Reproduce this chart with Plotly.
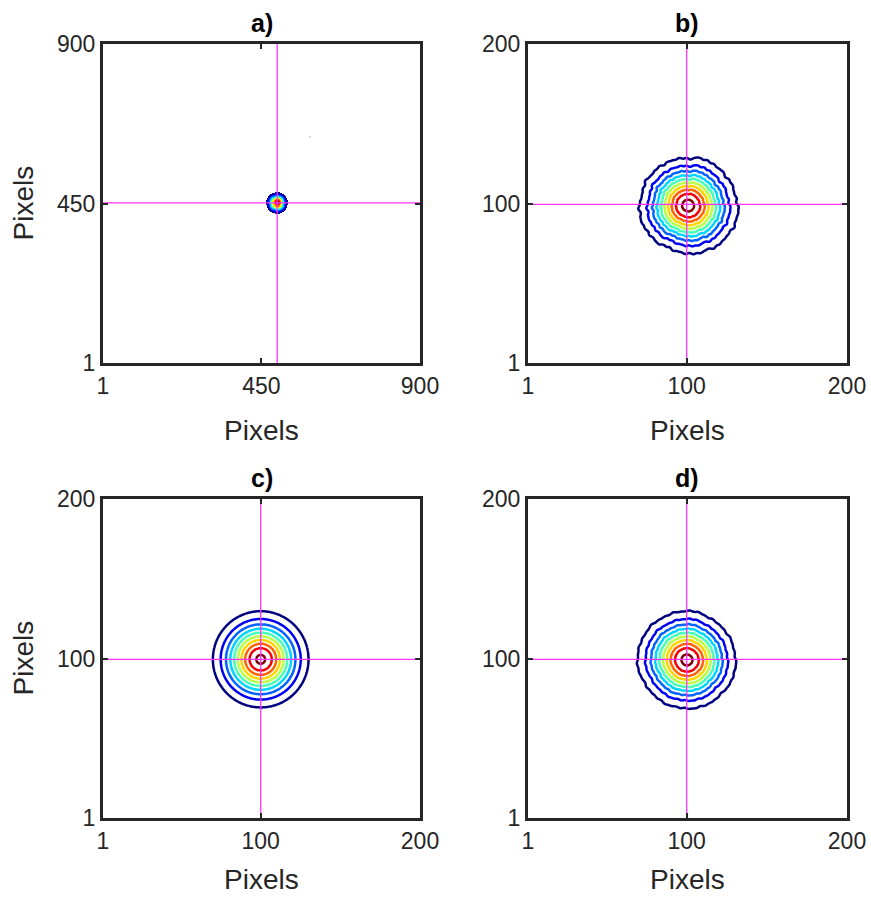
import numpy as np
import plotly.graph_objects as go

W, H = 871, 897

# ---------------- data ----------------
panel_labels = ["a)", "b)", "c)", "d)"]
axis_lo = [1, 1, 1, 1]
axis_hi = [900, 200, 200, 200]
tick_vals = [[1, 450, 900], [1, 100, 200], [1, 100, 200], [1, 100, 200]]
tick_text = [["1", "450", "900"], ["1", "100", "200"], ["1", "100", "200"], ["1", "100", "200"]]
show_ytitle = [True, False, True, False]

# beam centre (data units), crosshair position, beam size (r^2 scale) and peak
beam_cx = [495, 100.8, 100, 100.2]
beam_cy = [452, 99.2, 100, 99.6]
cross_x = [495, 100, 100, 100]
cross_y = [452, 100, 100, 100]
beam_c = [388, 390, 388, 395]
beam_peak = [1.02, 1.035, 1.02, 1.03]

# contour levels drawn in b, c, d
level_start = 0.1
level_end = 1.0
level_step = 0.1

# angular irregularity of the measured beams (harmonic, amplitude, phase)
irreg_b = [(1, 0.015, 0.2), (2, 0.015, 0.6), (3, 0.01, 2.1), (5, 0.01, 0.9),
           (9, 0.008, 1.7), (14, 0.008, 0.4), (21, 0.008, 2.5), (31, 0.008, 1.1), (43, 0.007, 0.3)]
irreg_d = [(1, 0.008, 3.3), (2, 0.01, 1.2), (4, 0.006, 0.3), (7, 0.006, 2.2),
           (13, 0.006, 0.8), (23, 0.006, 1.9), (37, 0.006, 0.5)]
irregs = [[], irreg_b, [], irreg_d]

# faint stray pixel in panel a
stray_x = [588]
stray_y = [638]

# ---------------- style ----------------
JET = [[0.0, "rgb(0,0,128)"], [0.125, "rgb(0,0,255)"], [0.375, "rgb(0,255,255)"],
       [0.625, "rgb(255,255,0)"], [0.875, "rgb(255,0,0)"], [1.0, "rgb(128,0,0)"]]
FONT = "Liberation Sans, Arial, Helvetica, sans-serif"
DARK = "#262626"
MAG = "#ff33ff"

x_dom = [[103 / W, 420 / W], [528 / W, 847 / W]]
y_dom = [[1 - 363 / H, 1 - 44 / H], [1 - 818 / H, 1 - 499 / H]]
dom_of = [(0, 0), (1, 0), (0, 1), (1, 1)]  # (col,row)

fig = go.Figure()


def field(X, Y, i):
    dx = X - beam_cx[i]
    dy = Y - beam_cy[i]
    r2 = dx ** 2 + dy ** 2
    th = np.arctan2(dy, dx)
    s = np.ones_like(X)
    for k, a, p in irregs[i]:
        s = s + a * np.cos(k * th + p)
    return beam_peak[i] * np.exp(-r2 / (s ** 2) / beam_c[i])


for i in range(4):
    xa = "x" if i == 0 else f"x{i+1}"
    ya = "y" if i == 0 else f"y{i+1}"
    if i == 0:
        g = np.arange(beam_cx[0] - 75, beam_cx[0] + 76, 3.0)
        gy = np.arange(beam_cy[0] - 75, beam_cy[0] + 76, 3.0)
        X, Y = np.meshgrid(g, gy)
        Z = field(X, Y, 0)
        Z = np.where(Z < 0.09, np.nan, Z)
        fig.add_trace(go.Heatmap(x=g, y=gy, z=Z, colorscale=JET, zmin=0.1, zmax=1.0,
                                 showscale=False, zsmooth=False, hoverinfo="skip",
                                 xaxis=xa, yaxis=ya))
        fig.add_trace(go.Scatter(x=stray_x, y=stray_y, mode="markers",
                                 marker=dict(size=2, color="#c8c8e0"), hoverinfo="skip",
                                 showlegend=False, xaxis=xa, yaxis=ya))
    else:
        g = np.arange(beam_cx[i] - 60, beam_cx[i] + 60.01, 0.5)
        gy = np.arange(beam_cy[i] - 60, beam_cy[i] + 60.01, 0.5)
        X, Y = np.meshgrid(g, gy)
        Z = field(X, Y, i)
        fig.add_trace(go.Contour(x=g, y=gy, z=Z, colorscale=JET, zmin=level_start,
                                 zmax=level_end, zauto=False, showscale=False,
                                 contours=dict(start=level_start, end=level_end + 1e-4,
                                               size=level_step, coloring="lines"),
                                 line=dict(width=2.5), hoverinfo="skip",
                                 xaxis=xa, yaxis=ya))
    # crosshair
    fig.add_trace(go.Scatter(x=[axis_lo[i], axis_hi[i]], y=[cross_y[i], cross_y[i]],
                             mode="lines", line=dict(color=MAG, width=1.3),
                             hoverinfo="skip", showlegend=False, xaxis=xa, yaxis=ya))
    fig.add_trace(go.Scatter(x=[cross_x[i], cross_x[i]], y=[axis_lo[i], axis_hi[i]],
                             mode="lines", line=dict(color=MAG, width=1.3),
                             hoverinfo="skip", showlegend=False, xaxis=xa, yaxis=ya))

layout = dict(width=W, height=H, margin=dict(l=0, r=0, t=0, b=0, autoexpand=False),
              paper_bgcolor="white", plot_bgcolor="white", showlegend=False,
              template="none",
              font=dict(family=FONT, color=DARK))

annotations = []
for i in range(4):
    c, r = dom_of[i]
    ax_common = dict(range=[axis_lo[i], axis_hi[i]], tickvals=tick_vals[i], ticktext=tick_text[i],
                     ticks="inside", ticklen=5, tickwidth=2, tickcolor=DARK,
                     showline=True, linewidth=3, linecolor=DARK, mirror="ticks",
                     showgrid=False, zeroline=False, automargin=False,
                     tickfont=dict(family=FONT, size=23, color=DARK))
    xk = "xaxis" if i == 0 else f"xaxis{i+1}"
    yk = "yaxis" if i == 0 else f"yaxis{i+1}"
    yname = "y" if i == 0 else f"y{i+1}"
    xname = "x" if i == 0 else f"x{i+1}"
    layout[xk] = dict(ax_common, domain=x_dom[c], anchor=yname)
    layout[yk] = dict(ax_common, domain=y_dom[r], anchor=xname)
    xc = (x_dom[c][0] + x_dom[c][1]) / 2
    yc = (y_dom[r][0] + y_dom[r][1]) / 2
    top_px = 44 if r == 0 else 499
    bot_px = 363 if r == 0 else 818
    xtitle_px = 430 if r == 0 else 879
    annotations.append(dict(text="<b>" + panel_labels[i] + "</b>", x=xc, y=1 - (top_px - 21) / H,
                            xref="paper", yref="paper", showarrow=False,
                            xanchor="center", yanchor="middle",
                            font=dict(family=FONT, size=25, color="black")))
    annotations.append(dict(text="Pixels", x=xc, y=1 - xtitle_px / H,
                            xref="paper", yref="paper", showarrow=False,
                            xanchor="center", yanchor="middle",
                            font=dict(family=FONT, size=28, color=DARK)))
    if show_ytitle[i]:
        annotations.append(dict(text="Pixels", x=23 / W, y=yc, textangle=-90,
                                xref="paper", yref="paper", showarrow=False,
                                xanchor="center", yanchor="middle",
                                font=dict(family=FONT, size=28, color=DARK)))
layout["annotations"] = annotations
fig.update_layout(**layout)
fig.write_html("out.html")
